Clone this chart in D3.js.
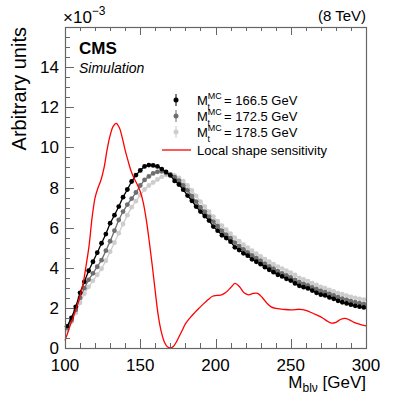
<!DOCTYPE html>
<html>
<head>
<meta charset="utf-8">
<script src="https://cdn.jsdelivr.net/npm/d3@7"></script>
<style>
body { margin: 0; background: #fff; }
text { font-family: "Liberation Sans", Arial, Helvetica, sans-serif; fill: #000; }
</style>
</head>
<body>
<svg id="canvas" width="407" height="396"></svg>
<script>
// histogram binning of the three templates (M_blv, GeV)
var binLo = 100
var binHi = 300
var nBins = 70

// values in units of 1e-3
var mass1665 = [1.08, 1.50, 2.05, 2.75, 3.30, 3.85, 4.30, 4.75, 5.22, 5.68,
    6.22, 6.62, 7.05, 7.52, 7.90, 8.30, 8.62, 8.85, 9.05, 9.12,
    9.10, 9.05, 8.92, 8.78, 8.60, 8.33, 8.15, 7.89, 7.60, 7.34,
    7.05, 6.80, 6.58, 6.35, 6.05, 5.85, 5.62, 5.48, 5.30, 5.02,
    4.88, 4.72, 4.60, 4.42, 4.30, 4.18, 4.03, 3.90, 3.78, 3.65,
    3.57, 3.45, 3.36, 3.22, 3.10, 3.03, 2.97, 2.86, 2.75, 2.66,
    2.62, 2.52, 2.45, 2.35, 2.28, 2.22, 2.16, 2.10, 2.06, 2.02]
var mass1725 = [1.00, 1.38, 1.90, 2.50, 2.98, 3.40, 3.72, 4.05, 4.38, 4.85,
    5.32, 5.85, 6.38, 6.80, 7.15, 7.45, 7.75, 8.10, 8.38, 8.55,
    8.70, 8.78, 8.80, 8.72, 8.65, 8.52, 8.34, 8.10, 7.86, 7.58,
    7.30, 7.02, 6.80, 6.55, 6.30, 6.08, 5.85, 5.65, 5.48, 5.25,
    5.08, 4.92, 4.77, 4.62, 4.48, 4.35, 4.20, 4.07, 3.95, 3.83,
    3.72, 3.62, 3.52, 3.40, 3.28, 3.20, 3.12, 3.02, 2.93, 2.84,
    2.78, 2.70, 2.62, 2.53, 2.46, 2.40, 2.34, 2.28, 2.23, 2.19]
var mass1785 = [0.92, 1.30, 1.75, 2.25, 2.70, 3.05, 3.35, 3.65, 3.95, 4.35,
    4.80, 5.25, 5.72, 6.18, 6.62, 7.02, 7.32, 7.62, 7.90, 8.10,
    8.25, 8.40, 8.53, 8.62, 8.66, 8.60, 8.48, 8.32, 8.10, 7.85,
    7.58, 7.30, 7.05, 6.80, 6.55, 6.32, 6.10, 5.90, 5.70, 5.50,
    5.32, 5.15, 5.00, 4.85, 4.70, 4.57, 4.43, 4.30, 4.18, 4.06,
    3.96, 3.85, 3.75, 3.64, 3.50, 3.42, 3.33, 3.23, 3.14, 3.04,
    2.98, 2.90, 2.82, 2.74, 2.68, 2.61, 2.55, 2.50, 2.45, 2.41]

// local shape sensitivity (red curve)
var sensX = [100, 102, 104, 106, 108, 110, 112, 114, 116, 118,
    120, 122, 124, 126, 128, 130, 132, 134, 136, 138,
    140, 142, 144, 146, 148, 150, 152, 154, 156, 158,
    160, 162, 164, 166, 168, 170, 172, 174, 176, 178,
    180, 183, 186, 189, 192, 195, 198, 201, 204, 207,
    210, 213, 216, 219, 222, 225, 228, 231, 234, 237,
    240, 245, 250, 256, 260, 265, 270, 274, 277, 280,
    283, 286, 289, 292, 296, 300]
var sensY = [0.38, 0.80, 1.25, 1.65, 2.10, 2.60, 3.20, 4.10, 5.10, 6.50,
    7.50, 8.00, 8.40, 9.00, 9.90, 10.60, 11.05, 11.20, 11.00, 10.50,
    9.85, 9.30, 8.80, 8.45, 8.15, 7.80, 7.25, 6.40, 5.30, 4.10,
    2.80, 1.60, 0.80, 0.30, 0.06, 0.00, 0.08, 0.30, 0.60, 0.90,
    1.20, 1.50, 1.75, 1.98, 2.20, 2.40, 2.58, 2.62, 2.65, 2.78,
    3.00, 3.22, 3.05, 2.75, 2.65, 2.72, 2.72, 2.52, 2.25, 2.05,
    1.97, 1.93, 1.90, 1.93, 1.88, 1.72, 1.55, 1.35, 1.24, 1.28,
    1.42, 1.48, 1.40, 1.28, 1.18, 1.10]

var xTicks = [100, 150, 200, 250, 300]
var yTicks = [0, 2, 4, 6, 8, 10, 12, 14]
var seriesNames = ['166.5', '172.5', '178.5']
var seriesColors = ['#000000', '#6e6e6e', '#cdcdcd']

var frame = {'left': 65, 'right': 366, 'top': 27, 'bottom': 348}
var svg = d3.select('#canvas')

var xScale = d3.scaleLinear().domain([100, 300]).range([frame.left, frame.right])
var yScale = d3.scaleLinear().domain([0, 16]).range([frame.bottom, frame.top])

function binCenter(i) {
    return binLo + (i + 0.5) * (binHi - binLo) / nBins
}

function drawAxes() {
    var axisColor = '#666'
    // frame
    svg.append('rect')
        .attr('x', frame.left + 0.5)
        .attr('y', frame.top + 0.5)
        .attr('width', frame.right - frame.left)
        .attr('height', frame.bottom - frame.top)
        .attr('fill', 'none')
        .attr('stroke', axisColor)
        .attr('stroke-width', 1.2)
    // x ticks, bottom and top
    var xMinor = d3.range(100, 301, 10)
    xMinor.forEach(function(v) {
        var major = v % 50 === 0
        var len = major ? 9 : 5
        var px = Math.round(xScale(v)) + 0.5
        svg.append('line')
            .attr('x1', px).attr('x2', px)
            .attr('y1', frame.bottom).attr('y2', frame.bottom - len)
            .attr('stroke', axisColor)
        svg.append('line')
            .attr('x1', px).attr('x2', px)
            .attr('y1', frame.top).attr('y2', frame.top + len - 1)
            .attr('stroke', axisColor)
    })
    svg.selectAll('.xlab')
        .data(xTicks)
        .enter()
        .append('text')
        .attr('class', 'xlab')
        .attr('x', function(d) { return xScale(d) })
        .attr('y', 371)
        .attr('text-anchor', 'middle')
        .attr('font-size', 17)
        .text(function(d) { return d })
    // y ticks
    var yMinor = d3.range(0, 16.01, 0.5)
    yMinor.forEach(function(v) {
        var major = v % 2 === 0
        var len = major ? 9 : 5
        var py = Math.round(yScale(v)) + 0.5
        svg.append('line')
            .attr('x1', frame.left).attr('x2', frame.left + len)
            .attr('y1', py).attr('y2', py)
            .attr('stroke', axisColor)
    })
    svg.selectAll('.ylab')
        .data(yTicks)
        .enter()
        .append('text')
        .attr('class', 'ylab')
        .attr('x', 59)
        .attr('y', function(d) { return yScale(d) + 6 })
        .attr('text-anchor', 'end')
        .attr('font-size', 17)
        .text(function(d) { return d })

    // axis titles
    svg.append('text')
        .attr('transform', 'translate(26,27) rotate(-90)')
        .attr('text-anchor', 'end')
        .attr('font-size', 20)
        .text('Arbitrary units')
    var xt = svg.append('text')
        .attr('x', frame.right)
        .attr('y', 388)
        .attr('text-anchor', 'end')
        .attr('font-size', 17)
    xt.append('tspan').text('M')
    xt.append('tspan').attr('font-size', 12).attr('dy', 4).text('blν')
    xt.append('tspan').attr('dy', -4).text(' [GeV]')

    var ex = svg.append('text')
        .attr('x', 63)
        .attr('y', 23)
        .attr('font-size', 17)
    ex.append('tspan').text('×10')
    ex.append('tspan').attr('font-size', 12).attr('dy', -8).text('−3')

    svg.append('text')
        .attr('x', frame.right)
        .attr('y', 21)
        .attr('text-anchor', 'end')
        .attr('font-size', 15)
        .text('(8 TeV)')
    svg.append('text')
        .attr('x', 79)
        .attr('y', 54)
        .attr('font-size', 17)
        .attr('font-weight', 'bold')
        .text('CMS')
    svg.append('text')
        .attr('x', 79)
        .attr('y', 73)
        .attr('font-size', 14)
        .attr('font-style', 'italic')
        .text('Simulation')
}

function drawSeries(values, color) {
    var pts = values.map(function(v, i) { return [binCenter(i), v] })
    var line = d3.line()
        .x(function(d) { return xScale(d[0]) })
        .y(function(d) { return yScale(d[1]) })
    var g = svg.append('g')
    g.append('path')
        .attr('d', line(pts))
        .attr('fill', 'none')
        .attr('stroke', color)
        .attr('stroke-width', 1.3)
    g.selectAll('circle')
        .data(pts)
        .enter()
        .append('circle')
        .attr('cx', function(d) { return xScale(d[0]) })
        .attr('cy', function(d) { return yScale(d[1]) })
        .attr('r', 2.4)
        .attr('fill', color)
}

function drawSensitivity() {
    var pts = sensX.map(function(x, i) { return [x, sensY[i]] })
    var line = d3.line()
        .curve(d3.curveCatmullRom)
        .x(function(d) { return xScale(d[0]) })
        .y(function(d) { return yScale(d[1]) })
    svg.append('path')
        .attr('d', line(pts))
        .attr('fill', 'none')
        .attr('stroke', '#ff0000')
        .attr('stroke-width', 1.3)
}

function drawLegend() {
    var rowsY = [100, 116, 132]
    var markX = 176
    var textX = 197
    seriesNames.forEach(function(name, i) {
        var y = rowsY[i]
        svg.append('line')
            .attr('x1', markX).attr('x2', markX)
            .attr('y1', y - 6).attr('y2', y + 6)
            .attr('stroke', seriesColors[i])
        svg.append('circle')
            .attr('cx', markX).attr('cy', y)
            .attr('r', 2.5)
            .attr('fill', seriesColors[i])
        var t = svg.append('text')
            .attr('x', textX)
            .attr('y', y + 5)
            .attr('font-size', 13)
        t.append('tspan').text('M')
        t.append('tspan').attr('font-size', 9).attr('dy', -6).text('MC')
        svg.append('text')
            .attr('x', textX + 10.5)
            .attr('y', y + 10)
            .attr('font-size', 9)
            .text('t')
        svg.append('text')
            .attr('x', textX + 27)
            .attr('y', y + 5)
            .attr('font-size', 13)
            .text('= ' + name + ' GeV')
    })
    var ly = 150
    svg.append('line')
        .attr('x1', 162).attr('x2', 191)
        .attr('y1', ly).attr('y2', ly)
        .attr('stroke', '#ff0000')
        .attr('stroke-width', 1.3)
    svg.append('text')
        .attr('x', textX)
        .attr('y', ly + 5)
        .attr('font-size', 13)
        .text('Local shape sensitivity')
}

drawSeries(mass1785, seriesColors[2])
drawSeries(mass1725, seriesColors[1])
drawSeries(mass1665, seriesColors[0])
drawSensitivity()
drawAxes()
drawLegend()
</script>
</body>
</html>
